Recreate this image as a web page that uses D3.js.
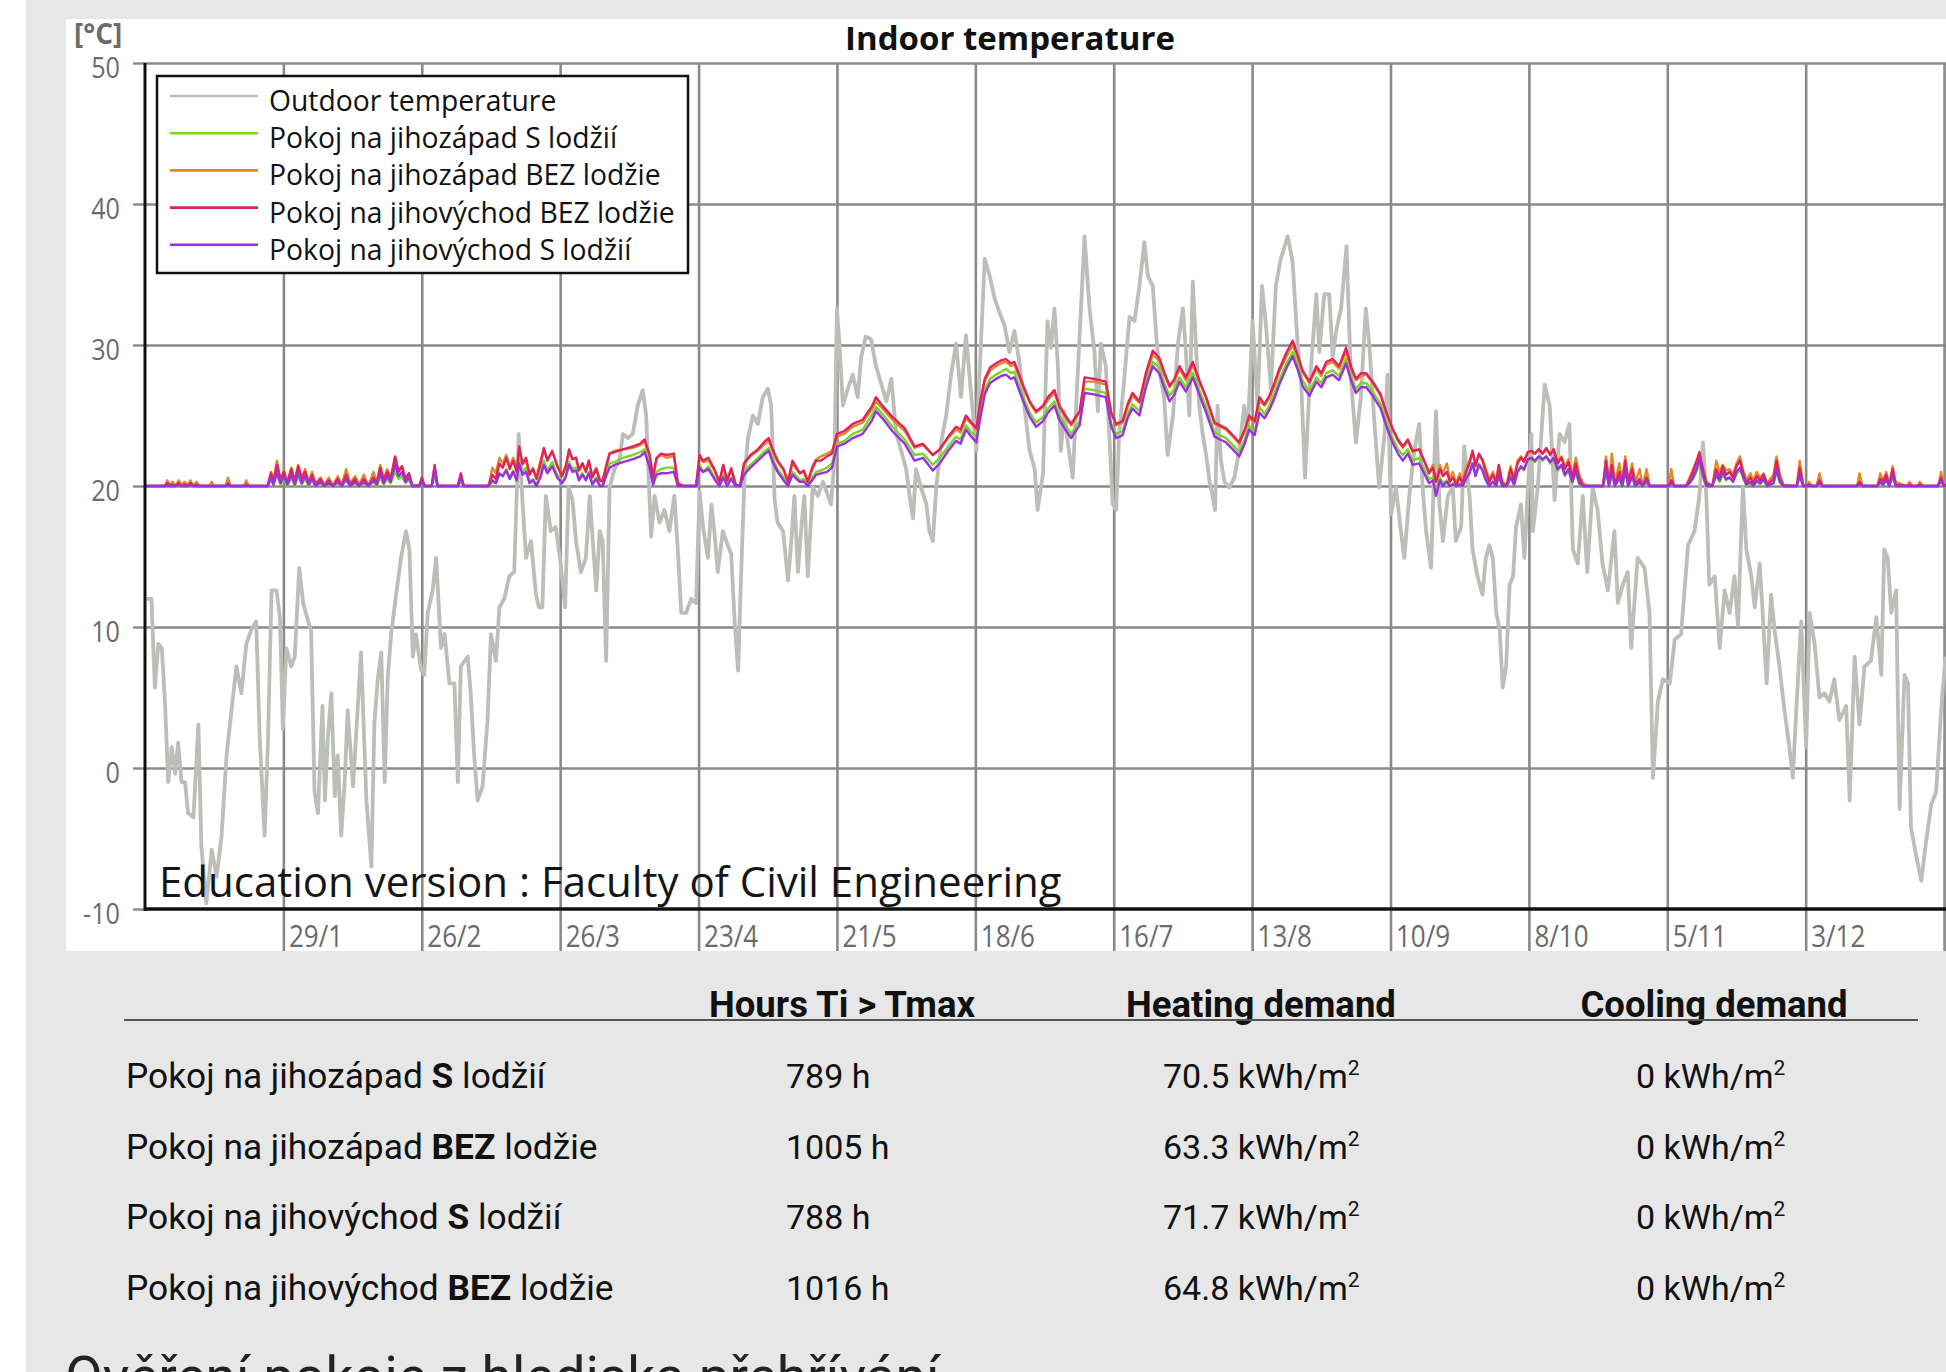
<!DOCTYPE html>
<html><head><meta charset="utf-8">
<script src="https://cdn.jsdelivr.net/npm/d3@7"></script>
<style>
html,body{margin:0;padding:0;background:#e7e7e7;overflow:hidden;}
svg{display:block;}
</style></head><body>
<script>
// ---------------- DATA ----------------
const seriesNames = ["Outdoor temperature","Pokoj na jihozápad S lodžií","Pokoj na jihozápad BEZ lodžie","Pokoj na jihovýchod BEZ lodžie","Pokoj na jihovýchod S lodžií"];
const seriesColors = ["#bcbeb9","#74d824","#e08a2c","#e0235a","#9d2fe0"];
const yTicks = [-10,0,10,20,30,40,50];
const xTickDays = [28,56,84,112,140,168,196,224,252,280,308,336,364];
const xTickLabels = ["29/1","26/2","26/3","23/4","21/5","18/6","16/7","13/8","10/9","8/10","5/11","3/12"];

// outdoor temperature (day of year, °C)
const outdoorDays = [
0.3,1.3,2.0,2.7,3.4,4.0,4.7,5.4,6.1,6.7,
7.4,8.1,8.7,9.8,10.8,11.4,12.4,13.5,14.5,15.5,
16.5,17.5,18.5,19.5,20.5,21.5,22.5,23.2,24.2,24.9,
25.6,26.6,27.3,27.9,28.6,29.6,30.3,31.2,32.0,33.0,
33.6,34.3,35.0,35.9,36.4,37.0,37.7,38.4,39.0,39.7,
40.4,41.0,42.1,42.7,43.7,44.8,45.8,46.4,47.1,47.8,
48.5,49.1,49.8,50.7,51.8,52.8,53.5,54.2,54.8,55.9,
56.5,57.2,58.2,58.9,59.9,60.6,61.6,62.6,63.3,63.9,
65.3,65.9,66.6,67.3,68.3,69.3,70.0,71.0,71.7,72.7,
73.7,74.7,75.6,76.2,77.1,78.1,79.1,79.7,80.4,81.1,
82.1,83.1,84.1,85.0,85.7,86.5,87.2,88.2,89.2,90.0,
90.6,91.3,92.0,92.6,93.3,94.0,95.0,96.0,96.7,97.7,
98.7,99.7,100.7,101.4,102.4,103.1,104.1,105.1,106.1,107.1,
107.8,108.5,109.5,110.5,111.5,112.2,112.9,113.9,114.6,115.2,
115.9,116.9,117.9,118.6,119.3,120.0,120.6,121.3,122.0,123.0,
124.0,125.0,126.0,126.7,127.4,128.0,129.1,130.1,130.7,131.4,
132.1,132.8,133.4,134.1,135.1,136.1,137.2,138.2,138.8,139.5,
140.0,140.5,141.2,142.2,143.2,144.2,144.9,145.8,146.9,147.9,
149.0,150.0,151.0,152.0,153.0,154.0,154.7,155.4,156.0,157.0,
158.1,158.7,159.4,160.1,161.1,162.1,163.1,164.1,165.1,166.1,
167.2,168.2,168.8,169.9,170.9,171.9,172.9,173.9,174.9,175.9,
176.9,177.9,179.0,180.0,180.6,181.7,182.6,183.3,184.0,184.7,
185.3,186.0,186.7,187.7,188.4,189.1,190.1,191.1,192.1,192.8,
193.4,194.4,195.1,195.8,196.5,197.1,198.2,199.2,200.2,201.2,
202.2,202.9,203.9,204.6,205.2,206.2,206.9,208.0,209.0,210.0,
210.6,211.3,212.0,212.7,213.3,214.0,214.7,215.4,216.0,216.5,
217.0,217.7,218.4,219.4,220.4,221.4,222.4,223.1,224.1,225.1,
226.0,226.8,227.8,228.8,229.8,231.2,232.2,233.2,233.9,234.7,
235.6,237.0,237.6,238.6,239.6,240.3,241.0,242.0,243.1,244.0,
245.0,246.0,247.0,247.7,248.7,249.7,250.8,251.4,252.1,253.1,
254.1,254.8,255.8,256.8,257.8,258.5,259.2,260.2,261.2,261.9,
262.6,263.6,264.6,265.2,266.3,266.9,268.0,268.6,269.6,270.6,
271.3,272.0,272.7,273.4,274.1,274.7,275.4,276.1,276.8,277.4,
278.4,279.1,279.8,280.5,280.8,281.8,283.2,284.2,285.2,286.2,
287.2,288.2,288.9,289.9,290.9,291.8,292.9,293.9,294.9,296.0,
297.3,298.0,299.0,300.0,300.7,302.0,303.4,304.4,305.1,306.1,
307.1,308.5,309.5,310.8,312.2,313.5,314.5,315.2,315.9,316.5,
317.6,318.6,319.6,320.6,321.6,322.3,323.3,324.0,325.0,325.7,
326.7,327.3,328.1,329.0,329.7,330.7,331.7,332.7,333.4,334.1,
335.1,336.1,336.8,337.8,338.8,339.8,340.8,341.8,342.8,344.2,
344.9,345.9,346.9,347.9,349.2,350.3,351.3,351.9,352.6,353.3,
354.3,355.0,356.0,356.7,357.3,358.3,359.4,360.4,361.4,362.4,
363.4,364.3];
const outdoorTemp = [
12,12,5.7,8.8,8.5,5.0,-1.0,1.5,-0.4,1.8,
-1,-1,-3.2,-3.5,3.1,-5.5,-9.6,-5.8,-7.7,-4.8,
0.9,4.1,7.2,5.3,8.8,9.8,10.4,2.2,-4.8,2.2,
12.6,12.6,10.7,2.8,8.5,7.2,7.9,14.2,11.7,10.4,
9.8,-1.7,-3.2,4.4,-2.3,2.2,5.3,-2.0,0.9,-4.8,
-1.0,4.1,-1.3,2.2,8.2,-2.3,-7.0,3.1,6.3,8.2,
-1.0,6.3,9.5,12,14.9,16.8,15.5,7.9,9.5,6.9,
6.6,11,12.6,14.9,8.5,9.5,6.0,6.0,-1.0,7.2,
7.9,5.3,0.9,-2.3,-1.3,3.4,9.5,7.6,11.4,12,
13.6,13.9,23.7,19.9,14.9,16.1,12.3,11.4,11.4,19.3,
16.8,17.1,14.5,11.4,19.9,19,16.1,13.9,14.9,19.3,
16.1,12.6,16.8,16.1,7.6,19.9,21.2,21.8,23.7,23.4,
23.7,25.7,26.8,25,16.4,19.3,17.4,18.3,16.8,19.3,
15.5,11,11,12,11.7,19.6,17.1,14.9,18.7,16.8,
13.9,16.8,15.8,15.2,10.4,6.9,13.6,20.6,23.4,25,
24.4,26.3,26.9,25.7,19,17.4,16.8,13.3,15.8,19.3,
13.9,17.1,19.3,13.6,19.9,19.3,20.3,19.3,18.7,21.8,
32.6,30.1,25.7,26.9,27.9,26.3,29.1,30.6,30.4,28.5,
27.2,26,27.6,23.7,22.5,21.2,19.3,17.7,21.2,19.9,
18.7,16.8,16.1,19.9,23.1,25,27.9,30.1,26.3,30.7,
26.3,22.5,27.6,36.1,34.9,33.3,32.3,31.4,29.5,31,
28.8,25.7,22.5,21.2,18.3,20.9,31.7,29.8,32.6,28.5,
22.5,25.3,23.1,20.6,25.7,30.7,37.7,32.6,29.5,25.3,
30.1,28.5,23.7,18.7,18.3,23.7,27.9,32,31.7,34.2,
37.3,34.9,34.2,30.7,28.2,26.3,22.2,25,30.1,32.6,
29.5,25,34.5,29.5,25.7,23.7,22.2,20.3,19.3,18.3,
25.7,21.8,20.3,19.9,20.6,22.5,25.7,23.7,31.7,25.7,
34.2,31.4,26.9,34.2,36.1,37.7,35.9,30.1,27.6,20.6,
26.9,33.6,29.5,33.6,33.6,29.1,31,32.6,37,27.6,
23.1,26.3,32.6,30.1,24.7,19.9,23.7,27.9,18,19.9,
16.8,14.9,19.3,22.5,24.4,19.9,16.8,14.2,25.3,18.7,
16.1,19.3,19.9,16.1,17.1,22.8,19.3,15.5,13.6,12.3,
14.9,15.8,14.9,11,9.8,5.7,7.2,13,13.6,17.1,
18.7,14.9,19.9,23.7,16.8,19.9,27.2,25.7,19,23.7,
23.1,24.4,15.5,14.5,19.3,13.9,19.9,18.3,14.5,12.6,
16.8,11.7,13,13.9,8.5,14.9,14.2,11,-0.7,4.7,
6.3,6,9.1,9.5,15.8,16.8,19.3,23.1,19.3,13,
13.6,8.5,12.6,11,13.6,10.1,19.9,15.5,13.6,11.4,
14.5,11,6,12.3,9.8,7.2,4.1,1.5,-0.7,4.1,
10.4,1.5,11,8.8,5,5.3,4.7,6.3,3.4,4.4,
-2.3,7.9,3.1,7.2,7.6,10.7,6.6,15.5,14.9,11,
12.6,-2.9,6.6,6,-4.2,-6.1,-8,-5.1,-2.6,-1.7,
4.1,7.9];

// indoor temperatures (shared day knots)
const indoorDays = [
0,4.0,4.5,5.0,5.6,6.2,6.8,7.4,8.0,8.6,9.2,9.8,10.4,11.0,13.0,13.5,14.0,16.3,16.8,17.3,20.0,20.5,21.0,24.8,
25.5,26.0,26.7,27.4,28.1,28.8,29.6,30.3,31.0,31.7,32.4,33.1,33.8,34.5,
35.5,36.3,37.2,38.0,39.0,39.8,40.7,41.5,42.5,43.3,44.3,45.2,46.2,46.9,47.6,48.3,49.0,49.7,
50.6,51.3,52.0,52.7,53.4,54.1,55.5,56.0,56.6,58.0,58.6,59.2,63.3,63.9,64.5,69.5,
70.3,71.0,71.7,72.4,73.1,73.8,74.5,75.2,75.7,76.4,77.1,77.8,78.5,79.2,80.0,80.7,81.4,82.4,83.4,84.4,85.1,85.8,86.5,87.2,87.8,88.5,89.2,89.8,90.5,91.3,92.0,92.6,
93.4,94.0,95.0,96.7,98.7,100.2,101.1,102.1,102.8,103.5,104.4,105.5,107.0,107.8,109.0,111.5,112.2,112.9,114.0,115.2,116.2,117.0,117.8,118.6,119.5,120.4,
121.2,122.5,124.0,125.5,126.2,127.0,128.0,129.2,130.1,131.0,131.8,132.5,133.3,134.1,135.0,135.8,136.8,138.0,139.0,
140.0,141.5,143.2,145.2,147.0,147.9,149.2,151.2,153.7,155.7,157.4,159.4,160.8,162.5,164.1,165.0,166.1,167.2,168.2,
169.0,169.9,171.0,172.2,173.2,174.2,175.2,175.9,177.6,179.0,180.3,181.7,182.7,184.0,185.0,186.2,187.4,188.3,189.1,190.1,192.0,194.4,
195.5,196.5,197.8,198.8,199.8,201.2,202.5,203.9,205.2,206.3,207.3,208.3,209.3,210.6,212.0,213.3,214.7,216.4,217.5,218.7,220.1,221.4,
222.5,223.4,224.5,225.5,226.5,227.5,228.5,229.5,231.0,232.2,233.2,234.2,235.6,237.0,238.0,239.0,240.3,241.6,243.0,244.0,245.0,246.0,247.1,248.4,
250.0,251.1,252.4,253.5,254.5,255.5,256.5,257.8,258.8,259.8,260.6,261.2,262.0,262.6,263.4,264.0,264.6,265.3,266.0,266.6,267.3,268.0,268.6,269.2,269.9,270.6,271.3,
272.0,272.7,273.4,273.9,274.6,275.5,276.3,277.0,277.7,278.4,279.0,279.8,280.5,281.2,282.0,282.8,283.5,284.3,285.0,285.8,286.6,287.3,288.0,288.8,289.5,290.2,291.0,291.8,
295.0,295.6,296.2,296.8,297.4,298.3,298.9,299.5,300.1,300.9,301.5,302.4,303.0,303.8,304.4,305.0,308.3,308.8,309.4,311.8,
312.5,313.2,313.8,314.5,315.2,315.9,317.1,317.9,318.6,319.2,319.9,320.6,321.3,322.0,322.7,323.3,324.0,324.8,325.4,326.1,326.8,327.5,328.2,329.5,330.1,330.8,331.5,
334.2,334.8,335.5,336.2,336.7,337.2,338.2,338.8,339.4,346.4,346.9,347.5,350.5,351.1,351.7,352.3,352.9,353.6,354.2,356.5,357.0,357.6,358.6,359.1,359.7,362.8,363.4,364.0,365.0];

// Pokoj na jihovýchod BEZ lodžie (red)
const roomSE_BEZ = [
20,20,20.2,20,20.1,20,20.2,20,20.1,20,20.2,20,20.1,20,20,20,20,20,20.2,20,20,20.1,20,20,
20.9,20.3,21.5,20.4,21.0,20.2,21.2,20.3,21.4,20.5,21.0,20.2,20.8,20.1,
20.5,20.0,20.4,20.0,20.5,20.0,20.8,20.1,20.5,20.0,20.5,20.0,20.6,20.2,21.3,20.4,21.0,20.5,
22.1,21.0,21.4,20.5,20.9,20.0,20.0,20.6,20.0,20.0,21.5,20.0,20.0,20.9,20.0,20.0,
20.8,20.5,21.6,21.3,22.0,21.2,21.8,21.0,22.8,21.6,22.0,20.8,21.2,20.5,21.5,22.7,21.8,22.5,21.4,20.7,21.3,22.6,21.9,22.0,21.1,21.6,21.0,21.8,20.6,21.2,20.4,20.3,
21.5,22.3,22.4,22.6,22.8,23.0,23.3,22.2,20.6,22.0,22.3,22.2,22.3,20.2,20.0,20.0,22.2,21.8,22.0,21.2,20.3,21.5,20.4,21.2,20.1,20.0,
21.6,22.2,22.6,23.2,23.4,22.6,21.8,21.2,20.3,21.8,21.3,20.9,21.1,20.3,21.2,21.8,21.8,22.1,22.3,
23.7,23.9,24.4,24.7,25.6,26.3,25.7,24.9,24.1,22.8,23.0,22.2,22.6,23.5,24.2,24.0,25.0,24.5,24.1,
26.0,27.6,28.4,28.7,28.9,29.0,28.7,28.8,27.2,26.0,25.3,25.7,26.3,26.8,25.7,25.0,24.4,24.9,25.3,27.7,27.6,27.4,
25.2,24.4,24.6,25.8,26.6,26.0,28.0,29.6,29.1,28.0,27.1,27.6,28.5,27.7,28.8,27.5,26.3,24.5,24.3,24.1,23.6,23.1,
24.0,25.0,24.6,26.3,25.8,26.4,27.3,28.3,29.5,30.3,29.3,28.2,27.4,28.5,28.0,28.8,29.0,28.5,29.8,28.5,27.6,28.0,28.0,27.4,
26.5,25.3,24.1,23.3,22.8,23.3,22.5,22.6,21.8,20.9,21.3,20.3,21.2,20.7,21.0,20.3,20.6,20.1,20.6,20.2,21.0,21.6,22.5,21.4,22.3,21.8,21.0,
20.3,20.8,20.2,21.5,20.2,20.0,21.2,20.4,21.6,22.0,21.7,22.4,22.5,22.3,22.6,22.3,22.7,22.2,22.6,21.6,22.0,21.2,21.7,20.6,21.6,20.5,20.0,20.0,
20.0,21.8,20.2,21.5,20.1,21.0,20.2,21.8,20.3,21.2,20.1,20.5,20.0,20.6,20.0,20.0,20.0,20.4,20.0,20.0,
20.4,21.0,21.6,22.4,21.2,20.2,20.0,21.2,20.6,21.4,20.8,21.0,20.6,21.4,21.8,21.0,20.2,20.6,20.2,20.7,20.4,20.8,20.1,20.5,21.8,20.5,20.0,
20.0,21.3,20.0,20.0,20.1,20.0,20.0,20.4,20.0,20.0,20.3,20.0,20.0,20.5,20.3,20.8,20.0,21.2,20.1,20.0,20.1,20.0,20.0,20.1,20.0,20.0,20.6,20.0,20.2];

// Pokoj na jihozápad BEZ lodžie (orange)
const roomSW_BEZ = [
20,20,20.4,20.1,20.3,20,20.4,20.1,20.3,20.1,20.4,20,20.3,20,20,20.3,20,20,20.6,20,20,20.4,20,20,
21.0,20.4,21.8,20.5,21.1,20.3,21.3,20.4,21.5,20.6,21.2,20.3,21.0,20.2,
20.6,20.1,20.6,20.0,20.7,20.1,21.2,20.2,20.7,20.1,20.8,20.0,21.0,20.3,21.5,20.5,21.2,20.6,
22.0,21.1,21.4,20.5,20.9,20.0,20.1,20.5,20.0,20.0,21.2,20.0,20.0,20.7,20.0,20.0,
21.3,20.9,22.0,21.6,22.2,21.4,22.0,21.2,22.4,21.5,21.8,20.9,21.3,20.6,21.8,22.6,21.9,22.4,21.5,20.8,21.4,22.4,21.9,22.0,21.2,21.6,21.1,21.8,20.7,21.3,20.5,20.4,
21.6,22.3,22.5,22.6,22.7,22.9,23.1,22.1,20.7,21.9,22.2,22.0,22.1,20.2,20.0,20.0,22.0,21.7,21.8,21.1,20.3,21.4,20.4,21.3,20.1,20.0,
21.6,22.1,22.5,23.0,23.2,22.5,21.7,21.1,20.3,21.6,21.2,20.9,21.0,20.3,21.4,21.9,22.1,22.3,22.5,
23.5,23.7,24.2,24.5,25.4,26.0,25.5,24.7,23.9,22.7,22.9,22.2,22.6,23.4,24.0,23.8,24.8,24.4,24.0,
25.8,27.4,28.2,28.5,28.7,28.8,28.5,28.6,27.1,25.9,25.2,25.6,26.1,26.6,25.6,24.9,24.3,24.8,25.2,27.4,27.4,27.2,
25.1,24.3,24.5,25.6,26.4,25.9,27.8,29.3,28.9,27.8,27.0,27.5,28.3,27.5,28.6,27.4,26.2,24.4,24.2,24.0,23.5,23.0,
23.9,24.8,24.5,26.0,25.7,26.2,27.1,28.1,29.2,30.0,29.1,28.1,27.3,28.3,27.8,28.6,28.8,28.3,29.5,28.3,27.5,27.8,27.9,27.3,
26.4,25.2,24.0,23.2,22.7,23.2,22.4,22.6,21.8,21.0,21.5,20.4,21.5,20.9,21.6,20.5,21.0,20.2,20.9,20.3,21.3,21.8,22.4,21.6,22.2,21.9,21.2,
20.4,21.0,20.4,21.5,20.3,20.1,21.4,20.6,21.8,22.1,21.8,22.4,22.4,22.3,22.6,22.3,22.6,22.3,22.6,21.8,22.1,21.4,21.9,20.8,22.0,20.8,20.2,20.0,
20.0,22.1,20.4,22.3,20.3,21.6,20.4,22.1,20.4,21.6,20.2,21.2,20.0,21.2,20.1,20.0,20.0,21.2,20.0,20.0,
20.6,21.2,21.7,22.2,21.3,20.3,20.0,21.8,21.0,21.5,21.1,21.2,20.8,21.6,22.1,21.2,20.4,20.9,20.4,21.0,20.6,20.9,20.2,20.8,22.1,20.8,20.1,
20.0,21.8,20.1,20.0,20.3,20.0,20.0,20.9,20.0,20.0,20.9,20.0,20.0,20.9,20.4,21.0,20.1,21.4,20.3,20.0,20.3,20.0,20.0,20.3,20.0,20.0,21.0,20.1,20.4];

// Pokoj na jihozápad S lodžií (green)
const roomSW_S = [
20,20,20.1,20,20,20,20.1,20,20,20,20.1,20,20,20,20,20,20,20,20.1,20,20,20,20,20,
20.4,20.1,20.8,20.1,20.5,20.0,20.6,20.0,20.7,20.1,20.5,20.0,20.4,20.0,
20.2,20.0,20.1,20.0,20.2,20.0,20.4,20.0,20.2,20.0,20.2,20.0,20.3,20.0,20.6,20.1,20.5,20.2,
21.0,20.5,20.7,20.2,20.4,20.0,20.0,20.2,20.0,20.0,20.6,20.0,20.0,20.3,20.0,20.0,
20.3,20.2,20.8,20.7,21.2,20.6,21.1,20.4,21.8,21.0,21.3,20.3,20.5,20.1,20.8,21.8,21.1,21.7,20.8,20.3,20.7,21.7,21.2,21.3,20.6,20.9,20.5,21.0,20.2,20.6,20.1,20.0,
21.0,21.6,21.7,22.0,22.2,22.4,22.6,21.4,20.2,21.0,21.2,21.3,21.3,20.1,20.0,20.0,21.5,21.0,21.4,20.6,20.1,20.8,20.1,20.6,20.0,20.0,
21.0,21.5,22.0,22.5,22.7,21.9,21.2,20.6,20.1,21.0,20.7,20.4,20.5,20.1,20.6,21.0,21.1,21.3,21.6,
23.0,23.2,23.7,24.0,25.0,25.6,25.1,24.2,23.3,22.2,22.3,21.5,22.0,22.8,23.5,23.3,24.3,23.8,23.5,
25.2,26.8,27.6,27.9,28.1,28.3,28.0,28.1,26.4,25.2,24.5,24.9,25.5,26.0,25.0,24.3,23.7,24.2,24.6,26.9,26.8,26.6,
24.4,23.7,23.9,25.1,25.8,25.3,27.3,28.8,28.4,27.2,26.4,26.9,27.7,27.0,28.0,26.8,25.6,23.8,23.6,23.4,22.9,22.4,
23.3,24.3,23.8,25.6,25.1,25.7,26.6,27.5,28.7,29.5,28.6,27.5,26.7,27.7,27.3,28.0,28.2,27.8,29.0,27.8,26.9,27.3,27.3,26.7,
25.8,24.6,23.4,22.6,22.2,22.6,21.8,22.0,21.2,20.5,20.6,19.7,20.6,20.2,20.4,20.0,20.2,20.0,20.2,20.0,20.6,21.0,21.6,20.8,21.6,21.2,20.5,
20.1,20.3,20.0,20.7,20.0,20.0,20.7,20.1,21.0,21.3,21.1,21.8,21.9,21.7,22.0,21.8,22.1,21.6,21.9,21.1,21.4,20.7,21.1,20.2,21.0,20.1,20.0,20.0,
20.0,21.0,20.0,20.8,20.0,20.5,20.0,21.0,20.0,20.6,20.0,20.2,20.0,20.2,20.0,20.0,20.0,20.2,20.0,20.0,
20.2,20.5,20.9,21.6,20.6,20.0,20.0,20.7,20.3,20.8,20.4,20.6,20.3,20.8,21.2,20.6,20.0,20.2,20.0,20.3,20.1,20.4,20.0,20.2,21.0,20.2,20.0,
20.0,20.6,20.0,20.0,20.0,20.0,20.0,20.2,20.0,20.0,20.1,20.0,20.0,20.2,20.1,20.4,20.0,20.6,20.0,20.0,20.0,20.0,20.0,20.0,20.0,20.0,20.3,20.0,20.0];

// Pokoj na jihovýchod S lodžií (purple)
const roomSE_S = [
20,20,20.1,20,20,20,20.1,20,20,20,20.1,20,20,20,20,20,20,20,20.1,20,20,20,20,20,
20.6,20.1,21.0,20.2,20.7,20.1,20.8,20.1,21.0,20.2,20.7,20.1,20.5,20.0,
20.3,20.0,20.2,20.0,20.3,20.0,20.5,20.0,20.3,20.0,20.3,20.0,20.4,20.1,20.9,20.2,20.7,20.3,
21.5,20.7,21.0,20.3,20.6,20.0,20.0,20.3,20.0,20.0,21.2,20.0,20.0,20.6,20.0,20.0,
20.4,20.2,20.9,20.7,21.1,20.5,21.0,20.4,21.6,20.8,21.0,20.2,20.4,20.0,20.6,21.5,20.9,21.4,20.6,20.2,20.6,21.5,21.0,21.1,20.4,20.8,20.4,20.9,20.1,20.5,20.0,20.0,
20.8,21.3,21.5,21.7,21.9,22.1,22.4,21.3,20.1,20.8,20.9,20.9,21.0,20.0,20.0,20.0,21.3,21.0,21.2,20.5,20.0,20.6,20.0,20.5,20.0,20.0,
20.8,21.3,21.8,22.3,22.5,21.7,21.0,20.4,20.0,20.8,20.5,20.3,20.3,20.0,20.4,20.8,20.9,21.0,21.3,
22.8,23.0,23.4,23.7,24.6,25.3,24.8,23.9,23.0,21.8,22.0,21.1,21.6,22.5,23.2,23.0,24.0,23.5,23.1,
24.8,26.5,27.3,27.6,27.8,27.9,27.6,27.7,26.1,24.9,24.2,24.6,25.2,25.7,24.7,24.0,23.4,23.9,24.3,26.6,26.5,26.3,
24.2,23.4,23.6,24.8,25.5,25.0,27.0,28.5,28.0,26.9,26.0,26.5,27.4,26.7,27.7,26.5,25.2,23.5,23.3,23.1,22.6,22.1,
23.0,24.0,23.6,25.2,24.8,25.4,26.2,27.2,28.4,29.2,28.3,27.1,26.4,27.4,27.0,27.7,27.9,27.5,28.7,27.5,26.6,27.0,27.0,26.4,
25.5,24.3,23.1,22.3,21.8,22.3,21.5,21.6,20.9,20.2,20.4,19.3,20.4,20.0,20.3,20.0,20.1,20.0,20.1,20.0,20.5,20.9,21.6,20.7,21.5,21.1,20.4,
20.0,20.3,20.0,20.8,20.0,20.0,20.6,20.1,21.0,21.4,21.2,21.9,22.0,21.8,22.1,21.9,22.1,21.7,22.0,21.2,21.5,20.8,21.2,20.3,21.1,20.2,20.0,20.0,
20.0,21.2,20.0,21.0,20.0,20.6,20.0,21.2,20.0,20.7,20.0,20.3,20.0,20.4,20.0,20.0,20.0,20.2,20.0,20.0,
20.2,20.6,21.1,21.9,20.8,20.0,20.0,20.8,20.4,21.0,20.5,20.6,20.3,21.0,21.3,20.7,20.1,20.3,20.0,20.4,20.2,20.5,20.0,20.2,21.2,20.3,20.0,
20.0,20.8,20.0,20.0,20.0,20.0,20.0,20.2,20.0,20.0,20.1,20.0,20.0,20.3,20.1,20.5,20.0,20.8,20.0,20.0,20.0,20.0,20.0,20.0,20.0,20.0,20.4,20.0,20.1];

// table
const tableHeaders = ["Hours Ti > Tmax","Heating demand","Cooling demand"];
const tableRooms = [["Pokoj na jihozápad ","S"," lodžií"],["Pokoj na jihozápad ","BEZ"," lodžie"],["Pokoj na jihovýchod ","S"," lodžií"],["Pokoj na jihovýchod ","BEZ"," lodžie"]];
const tableHours = [789,1005,788,1016];
const tableHeating = [70.5,63.3,71.7,64.8];
const tableCooling = [0,0,0,0];

// ---------------- DRAW ----------------
const W=1946,H=1372;
const svg=d3.select('body').append('svg').attr('width',W).attr('height',H);
svg.append('rect').attr('width',W).attr('height',H).attr('fill','#e7e7e7');
svg.append('rect').attr('x',0).attr('y',0).attr('width',26).attr('height',H).attr('fill','#ffffff');
svg.append('rect').attr('x',66).attr('y',19).attr('width',W-66).attr('height',951-19).attr('fill','#ffffff');

const PL=145, PT=63, PB=909, PR=1949;
const x=d3.scaleLinear().domain([0,365]).range([PL,PR]);
const y=d3.scaleLinear().domain([-10,50]).range([PB,PT]);
const gridColor='#8a8a8a';
const tickFont="'Open Sans',sans-serif";
const SX=0.84; // horizontal squeeze of tick labels

// vertical grid
const gx=svg.append('g').attr('transform','translate(0,951)')
  .call(d3.axisBottom(x).tickValues(xTickDays).tickSize(-(951-PT)).tickFormat(''));
gx.select('.domain').remove();
gx.selectAll('line').attr('stroke',gridColor).attr('stroke-width',2.6);

// horizontal grid
const gy=svg.append('g').attr('transform',`translate(${PL},0)`)
  .call(d3.axisLeft(y).tickValues(yTicks.filter(v=>v>-10)).tickSize(-(W-PL)).tickFormat(''));
gy.select('.domain').remove();
gy.selectAll('line').attr('stroke',gridColor).attr('stroke-width',2.4);

// y axis ticks + labels
const ya=svg.append('g').attr('transform',`translate(${PL},0)`)
  .call(d3.axisLeft(y).tickValues(yTicks).tickSize(12).tickPadding(13).tickFormat(d=>String(d)));
ya.select('.domain').remove();
ya.selectAll('line').attr('stroke',gridColor).attr('stroke-width',2.4);
ya.selectAll('text').attr('x',-25/SX).attr('dy',14).attr('transform',`scale(${SX},1)`)
  .attr('font-family',tickFont).attr('font-size',30).attr('fill','#6b6b6b');

// x labels
const xa=svg.append('g').attr('transform',`translate(0,${PB})`)
  .call(d3.axisBottom(x).tickValues(xTickDays.slice(0,xTickLabels.length)).tickFormat((d,i)=>xTickLabels[i]).tickSize(0));
xa.select('.domain').remove();
xa.selectAll('text').attr('text-anchor','start').attr('x',5/SX).attr('y',38).attr('dy',0).attr('transform',`scale(${SX},1)`)
  .attr('font-family',tickFont).attr('font-size',31).attr('fill','#6b6b6b');

// clip
svg.append('clipPath').attr('id','plotclip').append('rect')
  .attr('x',PL).attr('y',PT).attr('width',PR-PL).attr('height',PB-PT);
const plot=svg.append('g').attr('clip-path','url(#plotclip)');
const line=d3.line().x(d=>x(d[0])).y(d=>y(d[1]));

plot.append('path').datum(d3.zip(outdoorDays,outdoorTemp))
  .attr('d',line).attr('fill','none').attr('stroke',seriesColors[0]).attr('stroke-width',3.8).attr('stroke-linejoin','round');

const indoorSeries=[roomSW_S,roomSW_BEZ,roomSE_BEZ,roomSE_S];
indoorSeries.forEach((vals,i)=>{
  plot.append('path').datum(d3.zip(indoorDays,vals))
    .attr('d',line).attr('fill','none').attr('stroke',seriesColors[i+1]).attr('stroke-width',2.4).attr('stroke-linejoin','round');
});

// axes lines
svg.append('line').attr('x1',PL).attr('x2',PL).attr('y1',PT).attr('y2',PB+2).attr('stroke','#111').attr('stroke-width',3);
svg.append('line').attr('x1',PL-1).attr('x2',W).attr('y1',PB).attr('y2',PB).attr('stroke','#111').attr('stroke-width',3.5);

// watermark
svg.append('text').attr('x',159).attr('y',897).attr('font-family',"'Open Sans',sans-serif").attr('font-size',42)
  .attr('fill','#151515').text('Education version : Faculty of Civil Engineering');

// title and unit
svg.append('text').attr('x',1010).attr('y',50).attr('text-anchor','middle').attr('font-family',"'Open Sans',sans-serif")
  .attr('font-weight',700).attr('font-size',33).attr('fill','#111').text('Indoor temperature');
svg.append('text').attr('x',74).attr('y',44).attr('font-family',"'Open Sans',sans-serif")
  .attr('font-weight',700).attr('font-size',28).attr('fill','#6b6b6b').text('[°C]');

// legend
const lg=svg.append('g');
lg.append('rect').attr('x',157).attr('y',76).attr('width',531).attr('height',197).attr('fill','#fff').attr('stroke','#111').attr('stroke-width',2.5);
const li=lg.selectAll('g.li').data(seriesNames).join('g').attr('class','li')
  .attr('transform',(d,i)=>`translate(0,${96+i*37.2})`);
li.append('line').attr('x1',170).attr('x2',258).attr('y1',0).attr('y2',0)
  .attr('stroke',(d,i)=>seriesColors[i]).attr('stroke-width',2.6);
li.append('text').attr('x',269).attr('y',15).attr('font-family',"'Open Sans',sans-serif").attr('font-size',28.3).attr('fill','#111').text(d=>d);

// table
const tFont="Roboto,'Noto Sans',sans-serif";
const hdrX=[842,1261,1714];
svg.selectAll('text.hdr').data(tableHeaders).join('text').attr('class','hdr')
  .attr('x',(d,i)=>hdrX[i]).attr('y',1017).attr('text-anchor','middle')
  .attr('font-family',tFont).attr('font-weight',700).attr('font-size',36.5).attr('fill','#111').text(d=>d);
svg.append('line').attr('x1',124).attr('x2',1918).attr('y1',1020).attr('y2',1020).attr('stroke','#555').attr('stroke-width',2);

const rowY=[1088,1159,1229,1300];
const rows=svg.selectAll('g.row').data(tableRooms).join('g').attr('class','row');
rows.append('text').attr('x',126).attr('y',(d,i)=>rowY[i]).attr('font-family',tFont).attr('font-size',35.3).attr('fill','#111')
  .each(function(d){
    const t=d3.select(this);
    t.append('tspan').text(d[0]);
    t.append('tspan').attr('font-weight',700).text(d[1]);
    t.append('tspan').text(d[2]);
  });
rows.append('text').attr('x',786).attr('y',(d,i)=>rowY[i]).attr('font-family',tFont).attr('font-size',34).attr('fill','#111')
  .text((d,i)=>tableHours[i]+' h');
function unitText(sel,vals,x0){
  sel.append('text').attr('x',x0).attr('y',(d,i)=>rowY[i]).attr('font-family',tFont).attr('font-size',34).attr('fill','#111')
   .each(function(d,i){
     const t=d3.select(this);
     t.append('tspan').text(vals[i]+' kWh/m');
     t.append('tspan').attr('font-size',21).attr('dy',-13).text('2');
   });
}
unitText(rows,tableHeating,1163);
unitText(rows,tableCooling,1636);

// cut-off heading at the bottom
svg.append('text').attr('x',65).attr('y',1396).attr('font-family',tFont).attr('font-size',55).attr('fill','#222')
  .text('Ověření pokoje z hlediska přehřívání');
</script>
</body></html>
